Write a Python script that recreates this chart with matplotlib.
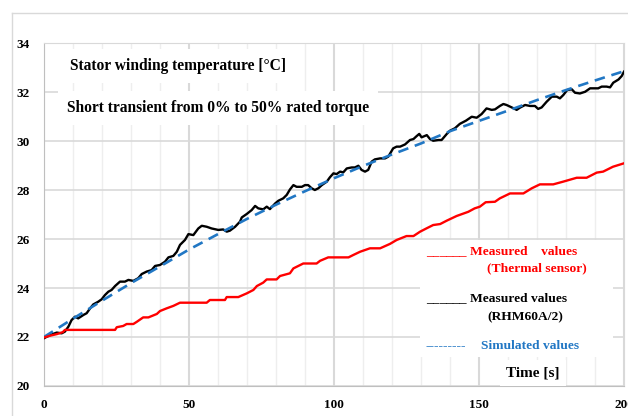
import matplotlib.pyplot as plt
from matplotlib.lines import Line2D
from matplotlib.patches import Rectangle

plt.rcParams['font.family'] = ['Liberation Serif', 'DejaVu Serif']
plt.rcParams['font.weight'] = 'bold'

# Measured values (RHM60A/2)
t_rhm = [0, 2.1, 4.4, 6.1, 7.2, 8.4, 9.5, 10.7, 11.8, 13.6, 14.7, 15.9, 17.0, 18.7,
         19.9, 21.0, 22.2, 23.3, 24.5, 26.2, 27.9, 29.1, 30.8, 32.5, 33.7, 35.4, 37.1,
         38.3, 40.0, 41.7, 42.9, 44.6, 45.8, 46.9, 48.6, 49.8, 51.5, 53.2, 54.4, 56.1,
         57.8, 60.1, 61.8, 63.0, 64.1, 65.9, 67.6, 68.2, 69.9, 71.6, 72.8, 73.9, 75.6,
         76.8, 77.9, 79.7, 80.8, 82.5, 83.7, 84.8, 86.0, 87.1, 88.9, 90.0, 91.1, 92.3,
         93.4, 94.6, 95.8, 97.5, 98.6, 99.8, 100.9, 102.1, 103.2, 104.4, 106.1, 107.2,
         108.4, 109.5, 110.7, 111.8, 113.0, 114.1, 115.9, 117.6, 118.7, 120.4, 121.6,
         122.8, 124.5, 126.2, 127.4, 128.5, 129.4, 130.2, 132.0, 133.1, 134.2, 136.0,
         137.1, 138.9, 140.0, 141.7, 143.4, 145.5, 147.5, 149.2, 150.9, 152.6, 154.4,
         155.5, 157.2, 158.4, 159.5, 161.3, 163.0, 164.1, 165.9, 167.6, 169.3, 170.4,
         171.6, 173.3, 175.1, 176.8, 177.9, 179.1, 180.4, 182.0, 183.1, 184.8, 186.6,
         188.3, 190.0, 191.1, 192.3, 194.0, 195.2, 196.3, 198.1, 199.2, 200.0]
T_rhm = [21.95, 22.08, 22.18, 22.15, 22.22, 22.42, 22.69, 22.83, 22.76, 22.9, 22.97,
         23.17, 23.33, 23.44, 23.54, 23.71, 23.85, 23.92, 24.08, 24.26, 24.26, 24.33,
         24.29, 24.4, 24.57, 24.67, 24.73, 24.9, 24.94, 25.07, 25.25, 25.31, 25.48,
         25.76, 25.96, 26.2, 26.16, 26.43, 26.54, 26.5, 26.43, 26.37, 26.39, 26.3,
         26.34, 26.5, 26.71, 26.88, 27.02, 27.18, 27.35, 27.25, 27.21, 27.32, 27.22,
         27.45, 27.56, 27.66, 27.8, 28.02, 28.2, 28.13, 28.13, 28.2, 28.2, 28.07, 28.0,
         28.07, 28.2, 28.34, 28.52, 28.68, 28.65, 28.75, 28.72, 28.88, 28.92, 28.92,
         28.99, 28.82, 28.75, 28.82, 29.16, 29.25, 29.29, 29.29, 29.36, 29.7, 29.77,
         29.77, 29.86, 30.04, 30.08, 30.2, 30.29, 30.15, 30.24, 30.08, 30.01, 30.04,
         30.04, 30.29, 30.42, 30.52, 30.7, 30.83, 30.99, 30.95, 31.1, 31.33, 31.27,
         31.29, 31.43, 31.51, 31.47, 31.37, 31.27, 31.36, 31.47, 31.43, 31.43, 31.31,
         31.37, 31.6, 31.81, 31.81, 31.74, 31.88, 32.08, 32.11, 31.97, 31.94, 32.01,
         32.15, 32.15, 32.15, 32.22, 32.22, 32.19, 32.38, 32.51, 32.65, 32.83]

# Measured values (thermal sensor)
t_sensor = [0, 2, 4.5, 6.5, 7.2, 24.5, 25.1, 27.3, 28.5, 30.8, 32, 34.2, 36, 38.9, 40,
            42.3, 44.6, 46.9, 56.1, 57.2, 62.4, 63, 67, 69.9, 72.2, 73.4, 75.6, 76.8,
            80.2, 81.4, 84.8, 86, 89.4, 94, 95.2, 98, 105, 106.7, 109, 112.4, 115.9,
            119.3, 121.6, 125, 127.4, 129.7, 132, 134.2, 136.6, 138.9, 142.3, 146.3,
            148.5, 150.3, 152.3, 155.5, 157.2, 160.7, 165.3, 168.2, 171, 175.6, 179,
            183.7, 187.1, 190.6, 192.8, 196.2, 200]
T_sensor = [21.98, 22.05, 22.12, 22.2, 22.29, 22.29, 22.4, 22.45, 22.53, 22.53, 22.62,
            22.8, 22.8, 22.94, 23.06, 23.17, 23.27, 23.4, 23.4, 23.51, 23.51, 23.63,
            23.63, 23.78, 23.92, 24.08, 24.22, 24.35, 24.35, 24.49, 24.6, 24.8, 25.0,
            25.0, 25.11, 25.25, 25.25, 25.35, 25.48, 25.62, 25.62, 25.8, 25.96, 26.12,
            26.12, 26.3, 26.44, 26.57, 26.61, 26.75, 26.94, 27.11, 27.25, 27.32, 27.5,
            27.52, 27.66, 27.86, 27.86, 28.07, 28.23, 28.23, 28.34, 28.5, 28.5, 28.71,
            28.75, 28.95, 29.09]

# Simulated values
t_sim = [0, 10, 20, 30, 40, 50, 60, 70, 80, 90, 100, 110, 120, 130, 140, 150, 160,
         170, 180, 190, 200]
T_sim = [22.0, 22.75, 23.48, 24.2, 24.88, 25.57, 26.2, 26.82, 27.4, 27.95, 28.48,
         28.98, 29.45, 29.9, 30.4, 30.82, 31.24, 31.67, 32.08, 32.47, 32.85]

x_ticks = [0, 50, 100, 150, 200]
y_ticks = [20, 22, 24, 26, 28, 30, 32, 34]

blue = '#2177C4'

fig = plt.figure(figsize=(6.28, 4.16), dpi=100)
ax = fig.add_axes([44 / 628, 1 - 386 / 416, 580 / 628, 343 / 416])

# outer chart border (left and top edges)
fig.add_artist(Line2D([12 / 628, 12 / 628], [0, 1 - 13 / 416], transform=fig.transFigure,
                      color='#D9D9D9', lw=1))
fig.add_artist(Line2D([12 / 628, 1], [1 - 13 / 416, 1 - 13 / 416], transform=fig.transFigure,
                      color='#D9D9D9', lw=1))

ax.plot(t_rhm, T_rhm, color='black', lw=1.7, zorder=3)
ax.plot(t_sim, T_sim, color=blue, lw=1.9, ls=(0, (4, 2.6)), zorder=4)
ax.plot(t_sensor, T_sensor, color='red', lw=1.7, zorder=5)

ax.set_xlim(0, 200)
ax.set_ylim(20, 34)
ax.set_xticks(x_ticks)
ax.set_yticks(y_ticks)
ax.set_xticks(range(0, 201, 10), minor=True)
ax.grid(True, which='major', axis='x', color='#D9D9D9', lw=1.5)
ax.grid(True, which='minor', axis='x', color='#EEEEEE', lw=1)
ax.grid(True, which='major', axis='y', color='#D9D9D9', lw=1.2)
ax.set_axisbelow(True)
ax.tick_params(which='both', length=0)
ax.tick_params(axis='x', pad=9, labelsize=9.5)
ax.tick_params(axis='y', pad=10, labelsize=9.5)
for s in ['left', 'bottom']:
    ax.spines[s].set_color('#BFBFBF')
for s in ['top', 'right']:
    ax.spines[s].set_color('#D9D9D9')
for lab in ax.get_xticklabels() + ax.get_yticklabels():
    lab.set_fontweight('bold')

box = dict(boxstyle='square,pad=0.6', fc='white', ec='none')
ax.text(26 / 580, 1 - 23 / 343, 'Stator winding temperature [°C]', transform=ax.transAxes,
        fontsize=11.2, ha='left', va='center', bbox=box, zorder=6)
ax.text(23 / 580, 1 - 65 / 343, 'Short transient from 0% to 50% rated torque',
        transform=ax.transAxes, fontsize=11.2, ha='left', va='center', bbox=box, zorder=6)

# legend block
ax.add_patch(Rectangle((376 / 580, 29 / 343), 193 / 580, 117 / 343, transform=ax.transAxes,
                       fc='white', ec='none', zorder=6))


def px(x, y):
    return (x - 44) / 580, (386 - y) / 343


ax.text(*px(426, 252), '______', color='red', fontsize=9.7, ha='left', va='center',
        transform=ax.transAxes, zorder=7)
ax.text(*px(470, 252), 'Measured    values', color='red', fontsize=9.7, ha='left',
        va='center', transform=ax.transAxes, zorder=7)
ax.text(*px(487, 268), '(Thermal sensor)', color='red', fontsize=9.7, ha='left',
        va='center', transform=ax.transAxes, zorder=7)
ax.text(*px(426, 299), '______', color='black', fontsize=9.7, ha='left', va='center',
        transform=ax.transAxes, zorder=7)
ax.text(*px(470, 299), 'Measured values', color='black', fontsize=9.7, ha='left',
        va='center', transform=ax.transAxes, zorder=7)
ax.text(*px(487, 317), '(RHM60A/2)', color='black', fontsize=9.7, ha='left',
        va='center', transform=ax.transAxes, zorder=7)
ax.text(*px(426, 346), '---------', color=blue, fontsize=9.7, ha='left', va='center',
        transform=ax.transAxes, zorder=7)
ax.text(*px(481, 346), 'Simulated values', color=blue, fontsize=9.7, ha='left',
        va='center', transform=ax.transAxes, zorder=7)
ax.text(*px(533, 373), 'Time [s]', color='black', fontsize=11, ha='center', va='center',
        transform=ax.transAxes, zorder=7,
        bbox=dict(boxstyle='square,pad=0.4', fc='white', ec='none'))

fig.savefig('out.png', dpi=100)
